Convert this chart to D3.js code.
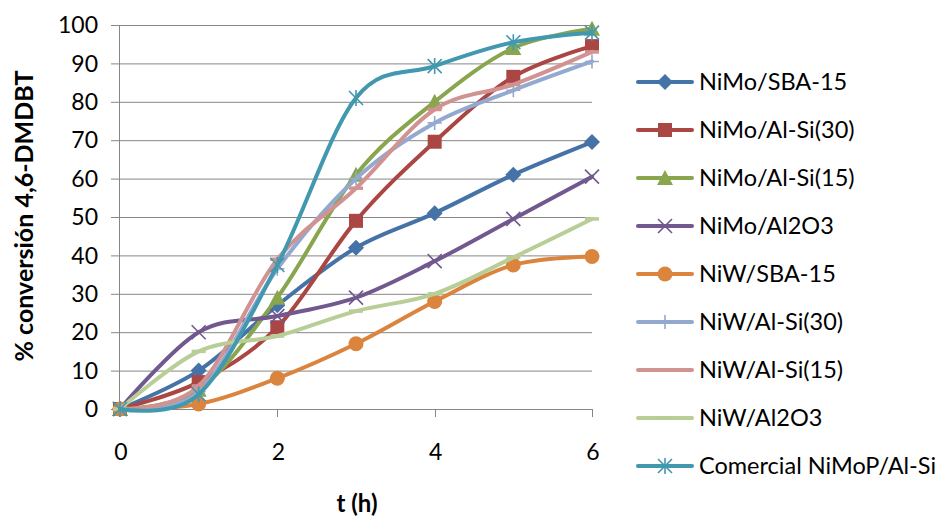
<!DOCTYPE html>
<html>
<head>
<meta charset="utf-8">
<script src="https://cdn.jsdelivr.net/npm/d3@7"></script>
<style>
body{margin:0;background:#fff;}
svg{display:block;font-family:Lato,"Liberation Sans",sans-serif;}
</style>
</head>
<body>
<svg id="c" width="944" height="517"></svg>
<script>
const times = [0, 1, 2, 3, 4, 5, 6];
const seriesNames = ["NiMo/SBA-15","NiMo/Al-Si(30)","NiMo/Al-Si(15)","NiMo/Al2O3","NiW/SBA-15","NiW/Al-Si(30)","NiW/Al-Si(15)","NiW/Al2O3","Comercial NiMoP/Al-Si"];
const nimoSBA   = [0, 10, 27, 42, 51, 61, 69.5];
const nimoAlSi30= [0, 7, 21.3, 49, 69.6, 86.5, 94.5];
const nimoAlSi15= [0, 5, 29, 61, 80, 94, 99];
const nimoAl2O3 = [0, 20, 24.2, 29, 38.5, 49.5, 60.5];
const niwSBA    = [0, 1.3, 8, 17, 28, 37.5, 39.7];
const niwAlSi30 = [0, 4.5, 36.5, 60, 74.5, 83, 90.5];
const niwAlSi15 = [0, 6, 39, 57.5, 78, 84.5, 93];
const niwAl2O3  = [0, 15, 19, 25.5, 30, 39.5, 49.5];
const comercial = [0, 3.8, 37.5, 81, 89.3, 95.5, 98];
const yTicks = [0,10,20,30,40,50,60,70,80,90,100];
const xTicks = [0,2,4,6];

const values = [nimoSBA,nimoAlSi30,nimoAlSi15,nimoAl2O3,niwSBA,niwAlSi30,niwAlSi15,niwAl2O3,comercial];
const colors = ["#4572A7","#AA4643","#89A54E","#71588F","#DB843D","#93A9CF","#D19392","#B9CD96","#4198AF"];
const markers = ["diamond","square","triangle","x","circle","plus","dash","dash","star"];

const svg = d3.select("#c");
const x = d3.scaleLinear().domain([0,6]).range([120,592]);
const y = d3.scaleLinear().domain([0,100]).range([409,25]);
const grey = "#868686";

// gridlines
svg.append("g").selectAll("line").data(yTicks).join("line")
  .attr("x1",111).attr("x2",592)
  .attr("y1",d=>y(d)+0.5).attr("y2",d=>y(d)+0.5)
  .attr("stroke",grey).attr("stroke-width",1);

// y axis line
svg.append("line").attr("x1",119.5).attr("x2",119.5).attr("y1",y(100)).attr("y2",y(0)+8)
  .attr("stroke",grey).attr("stroke-width",1);
// x ticks
svg.append("g").selectAll("line").data(xTicks.slice(1)).join("line")
  .attr("x1",d=>Math.round(x(d))+0.5).attr("x2",d=>Math.round(x(d))+0.5)
  .attr("y1",y(0)).attr("y2",y(0)+8).attr("stroke",grey);

// tick labels
svg.append("g").selectAll("text").data(yTicks).join("text")
  .attr("x",98).attr("y",d=>y(d)).attr("dy","0.36em").attr("text-anchor","end")
  .attr("font-size",23).attr("fill","#000").text(d=>d);
svg.append("g").selectAll("text").data(xTicks).join("text")
  .attr("x",d=>x(d)+1).attr("y",452).attr("dy","0.36em").attr("text-anchor","middle")
  .attr("font-size",23).attr("fill","#000").text(d=>d);

// axis titles
svg.append("text").attr("x",357).attr("y",503).attr("dy","0.36em").attr("text-anchor","middle")
  .attr("font-size",24).attr("font-weight","bold").text("t (h)");
svg.append("text").attr("transform","translate(24,216) rotate(-90)").attr("dy","0.36em")
  .attr("text-anchor","middle").attr("font-size",25).attr("font-weight","bold")
  .text("% conversión 4,6-DMDBT");

function drawMarker(g, type, cx, cy, color){
  const s = 7;
  if(type==="diamond"){
    g.append("path").attr("d",`M${cx},${cy-s-1}L${cx+s+1},${cy}L${cx},${cy+s+1}L${cx-s-1},${cy}Z`).attr("fill",color);
  } else if(type==="square"){
    g.append("rect").attr("x",cx-s).attr("y",cy-s).attr("width",2*s).attr("height",2*s).attr("fill",color);
  } else if(type==="triangle"){
    g.append("path").attr("d",`M${cx},${cy-s-1}L${cx+s+1},${cy+s}L${cx-s-1},${cy+s}Z`).attr("fill",color);
  } else if(type==="circle"){
    g.append("circle").attr("cx",cx).attr("cy",cy).attr("r",s+0.5).attr("fill",color);
  } else if(type==="x"){
    g.append("path").attr("d",`M${cx-s},${cy-s}L${cx+s},${cy+s}M${cx-s},${cy+s}L${cx+s},${cy-s}`).attr("stroke",color).attr("stroke-width",1.6);
  } else if(type==="plus"){
    g.append("path").attr("d",`M${cx-s},${cy}L${cx+s},${cy}M${cx},${cy-s}L${cx},${cy+s}`).attr("stroke",color).attr("stroke-width",1.6);
  } else if(type==="dash"){
    g.append("path").attr("d",`M${cx-s},${cy}L${cx+s},${cy}`).attr("stroke",color).attr("stroke-width",3.5);
  } else if(type==="star"){
    g.append("path").attr("d",`M${cx-s},${cy-s}L${cx+s},${cy+s}M${cx-s},${cy+s}L${cx+s},${cy-s}M${cx},${cy-s-1}L${cx},${cy+s+1}`).attr("stroke",color).attr("stroke-width",1.6);
  }
}

const line = d3.line().x(d=>x(d[0])).y(d=>y(d[1])).curve(d3.curveCardinal.tension(0));

values.forEach((vals,i)=>{
  const g = svg.append("g");
  const pts = times.map((t,j)=>[t,vals[j]]);
  g.append("path").attr("d",line(pts)).attr("fill","none").attr("stroke",colors[i])
    .attr("stroke-width",4).attr("stroke-linecap","round").attr("stroke-linejoin","round");
  pts.forEach(p=>drawMarker(g,markers[i],x(p[0]),y(p[1]),colors[i]));
});

// legend
const lg = svg.append("g");
seriesNames.forEach((name,i)=>{
  const ly = 82 + i*48;
  lg.append("line").attr("x1",638).attr("x2",692).attr("y1",ly).attr("y2",ly)
    .attr("stroke",colors[i]).attr("stroke-width",4).attr("stroke-linecap","round");
  drawMarker(lg,markers[i],665,ly,colors[i]);
  lg.append("text").attr("x",699).attr("y",ly).attr("dy","0.36em").attr("font-size",23.5).text(name);
});
</script>
</body>
</html>
